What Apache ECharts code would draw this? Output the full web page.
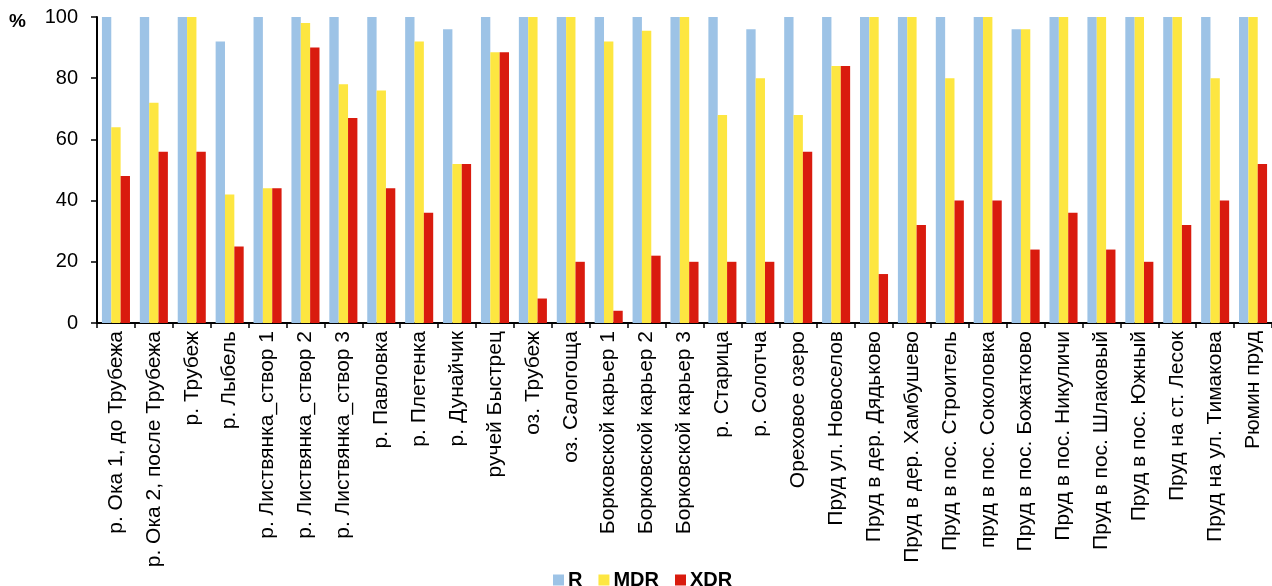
<!DOCTYPE html>
<html>
<head>
<meta charset="utf-8">
<script src="https://cdn.jsdelivr.net/npm/echarts@6/dist/echarts.min.js"></script>
<style>
html,body{margin:0;padding:0;background:#fff;}
#chart{width:1272px;height:586px;}
</style>
</head>
<body>
<div id="chart"></div>
<script>
var categories = [
  'р. Ока 1, до Трубежа', 'р. Ока 2, после Трубежа', 'р. Трубеж', 'р. Лыбель',
  'р. Листвянка_створ 1', 'р. Листвянка_створ 2', 'р. Листвянка_створ 3',
  'р. Павловка', 'р. Плетенка', 'р. Дунайчик', 'ручей Быстрец', 'оз. Трубеж',
  'оз. Салогоща', 'Борковской карьер 1', 'Борковской карьер 2', 'Борковской карьер 3',
  'р. Старица', 'р. Солотча', 'Ореховое озеро', 'Пруд ул. Новоселов',
  'Пруд в дер. Дядьково', 'Пруд в дер. Хамбушево', 'Пруд в пос. Строитель',
  'пруд в пос. Соколовка', 'Пруд в пос. Божатково', 'Пруд в пос. Никуличи',
  'Пруд в пос. Шлаковый', 'Пруд в пос. Южный', 'Пруд на ст. Лесок',
  'Пруд на ул. Тимакова', 'Рюмин пруд'
];
var seriesNames = ['R', 'MDR', 'XDR'];
var valuesR   = [100, 100, 100, 92, 100, 100, 100, 100, 100, 96, 100, 100, 100, 100, 100, 100, 100, 96, 100, 100, 100, 100, 100, 100, 96, 100, 100, 100, 100, 100, 100];
var valuesMDR = [64, 72, 100, 42, 44, 98, 78, 76, 92, 52, 88.5, 100, 100, 92, 95.5, 100, 68, 80, 68, 84, 100, 100, 80, 100, 96, 100, 100, 100, 100, 80, 100];
var valuesXDR = [48, 56, 56, 25, 44, 90, 67, 44, 36, 52, 88.5, 8, 20, 4, 22, 20, 20, 20, 56, 84, 16, 32, 40, 40, 24, 36, 24, 20, 32, 40, 52];
var yTicks = [0, 20, 40, 60, 80, 100];
var colors = ['#9DC3E6', '#FDE641', '#D91B0E'];

var chart = echarts.init(document.getElementById('chart'));
var font = 'Liberation Sans, Arial, sans-serif';
chart.setOption({
  animation: false,
  color: colors,
  title: {
    text: '%', left: 4, top: 7,
    textStyle: { fontFamily: font, fontSize: 19, fontWeight: 'bold', color: '#000' }
  },
  legend: {
    data: seriesNames,
    left: 548, top: 565,
    itemWidth: 11, itemHeight: 11, itemGap: 16,
    icon: 'rect',
    textStyle: { fontFamily: font, fontSize: 20, fontWeight: 'bold', color: '#000', padding: [0, 0, 0, -1] }
  },
  grid: { left: 97, right: 0, top: 17, bottom: 263, containLabel: false, outerBoundsMode: 'none' },
  xAxis: {
    type: 'category',
    data: categories,
    axisLine: { lineStyle: { color: '#000', width: 2 } },
    axisTick: { show: true, length: 5, lineStyle: { color: '#000', width: 1.5 } },
    axisLabel: { rotate: 90, interval: 0, margin: 8, fontFamily: font, fontSize: 21, color: '#000' }
  },
  yAxis: {
    type: 'value', min: 0, max: 100, interval: 20,
    axisLine: { show: true, lineStyle: { color: '#000', width: 2 } },
    axisTick: { show: true, length: 6, lineStyle: { color: '#000', width: 1.5 } },
    splitLine: { show: false },
    axisLabel: { margin: 19, fontFamily: font, fontSize: 20, color: '#000',
      formatter: function (v) { return yTicks.indexOf(v) >= 0 ? String(v) : ''; } }
  },
  series: [
    { name: seriesNames[0], type: 'bar', data: valuesR, barGap: '0%', barCategoryGap: '26%' },
    { name: seriesNames[1], type: 'bar', data: valuesMDR, barGap: '0%', barCategoryGap: '26%' },
    { name: seriesNames[2], type: 'bar', data: valuesXDR, barGap: '0%', barCategoryGap: '26%' }
  ]
});
</script>
</body>
</html>
